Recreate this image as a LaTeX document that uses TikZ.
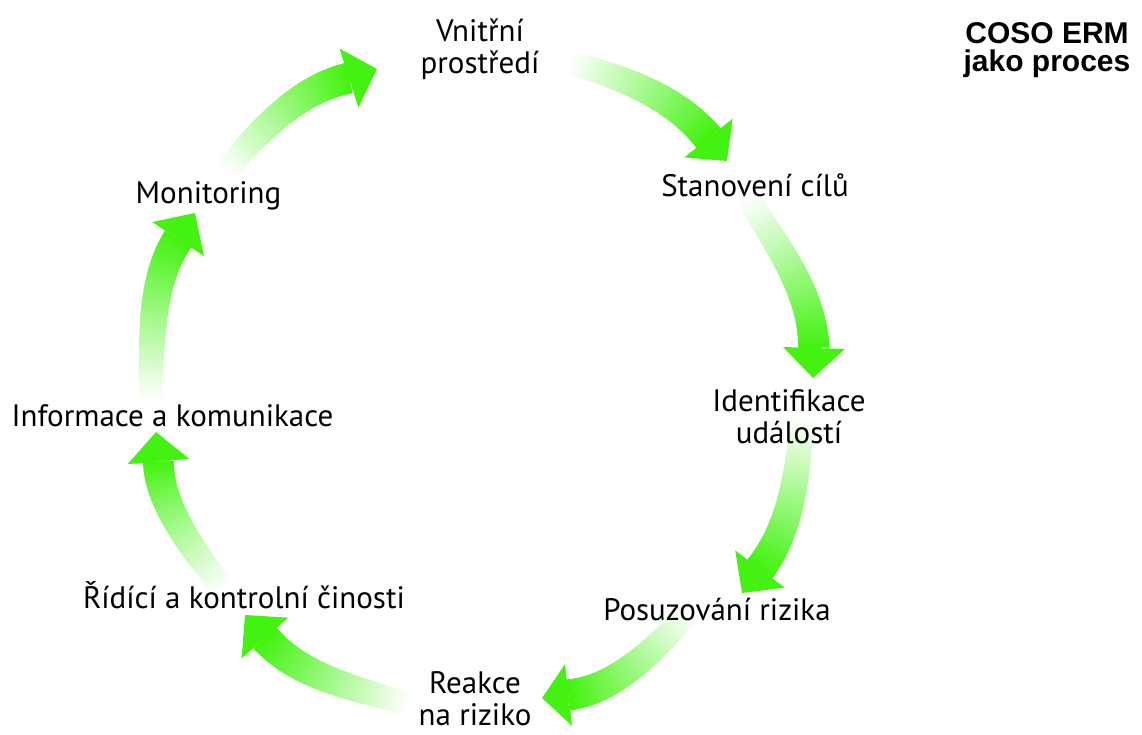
\documentclass[tikz,border=0pt]{standalone}
\usepackage{fontspec}
\setmainfont{PT Sans}
\newfontfamily\titlefont{Liberation Sans}
\usetikzlibrary{calc}
\definecolor{ergreen}{RGB}{68,242,17}
\tikzset{
  lbl/.style={font=\fontsize{31pt}{32pt}\selectfont, align=center, anchor=base, inner sep=0pt, text=black},
  ttl/.style={font=\titlefont\bfseries\fontsize{30pt}{28pt}\selectfont, align=center, anchor=base, inner sep=0pt, text=black},
  headfill/.style={fill=ergreen, draw=none}
}
\newcommand{\gradshaft}[4]{%
  \foreach \i in {0,...,47}{%
    \pgfmathsetmacro\ta{\i/48}%
    \pgfmathsetmacro\tb{min(1,(\i+2)/48)}%
    \pgfmathtruncatemacro\pc{100*\i/47}%
    \pgfmathsetmacro\lw{23+8*\i/47}%
    \path #1 .. controls #2 and #3 .. #4 coordinate[pos=\ta] (qa) coordinate[pos=\tb] (qb);
    \draw[line width=\lw pt, draw=ergreen!\pc!white, line cap=butt] (qa) -- (qb);
  }%
}
\newcommand{\gradhead}[2]{%
  \fill[headfill] ($#1!31pt!90:#2$) -- #2 -- ($#1!31pt!-90:#2$) -- cycle;
}
\begin{document}
\begin{tikzpicture}[x=1pt,y=-1pt]
\useasboundingbox (0,0) rectangle (1142,734);

% arrow geometry (tail, control 1, control 2, head base, tip)
\coordinate (a1s) at (225,172);  \coordinate (a1c) at (258,132); \coordinate (a1d) at (298,89);  \coordinate (a1b) at (349,78);   \coordinate (a1t) at (377,69);
\coordinate (a2s) at (568,62);   \coordinate (a2c) at (622,77);  \coordinate (a2d) at (676,97.5);\coordinate (a2b) at (708.5,138); \coordinate (a2t) at (727,161);
\coordinate (a3s) at (746,195);  \coordinate (a3c) at (778,248); \coordinate (a3d) at (812,290); \coordinate (a3b) at (814,348);   \coordinate (a3t) at (813,378);
\coordinate (a4s) at (803,415);  \coordinate (a4c) at (797.5,470);\coordinate (a4d) at (793,525);\coordinate (a4b) at (760,569);   \coordinate (a4t) at (742,593);
\coordinate (a5s) at (690,612);  \coordinate (a5c) at (658,645); \coordinate (a5d) at (618,689.5);\coordinate (a5b) at (568.5,695);\coordinate (a5t) at (542,698);
\coordinate (a6s) at (410,705);  \coordinate (a6c) at (358,688); \coordinate (a6d) at (301,679); \coordinate (a6b) at (265,638);   \coordinate (a6t) at (245,615);
\coordinate (a7s) at (225,590);  \coordinate (a7c) at (190,548); \coordinate (a7d) at (158,500); \coordinate (a7b) at (158.5,461.5);\coordinate (a7t) at (156,432);
\coordinate (a8s) at (150,402);  \coordinate (a8c) at (153,347); \coordinate (a8d) at (148,285); \coordinate (a8b) at (178,239);   \coordinate (a8t) at (195,213);

\foreach \k in {1,...,8}{
  \gradshaft{(a\k s)}{(a\k c)}{(a\k d)}{(a\k b)}
  \gradhead{(a\k b)}{(a\k t)}
}

% labels
\node[lbl] (vnitrni) at (480,73) {Vnitřní\\prostředí};
\node[lbl] (cile) at (755,196) {Stanovení cílů};
\node[lbl] (ident) at (789,443) {Identifikace\\událostí};
\node[lbl] (posuz) at (717,620) {Posuzování rizika};
\node[lbl] (reakce) at (475,725) {Reakce\\na riziko};
\node[lbl] (ridici) at (244,608) {Řídící a kontrolní činosti};
\node[lbl] (info) at (172.5,426) {Informace a komunikace};
\node[lbl] (monit) at (208.5,203) {Monitoring};

% title
\node[ttl] (title) at (1047,71) {COSO ERM\\jako proces};
\end{tikzpicture}
\end{document}
